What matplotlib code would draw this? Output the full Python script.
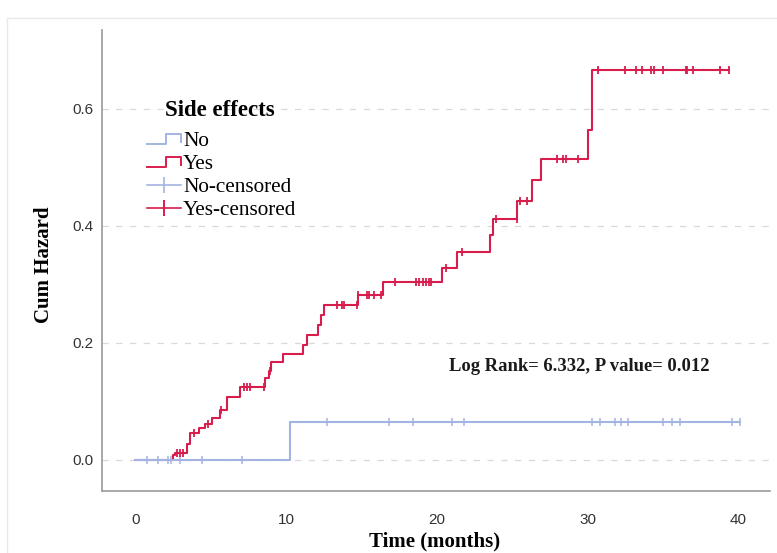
"""
Cumulative hazard by side effects (Kaplan-Meier style step plot).
"""

import numpy as np
import matplotlib
matplotlib.use("Agg")
import matplotlib.pyplot as plt
from matplotlib.lines import Line2D
from matplotlib.legend_handler import HandlerBase
from matplotlib.patches import Rectangle

# ---------------- data ----------------
# "No" group: event times and cum hazard after each event
no_times = [0.0, 10.3]
no_hazard = [0.0, 0.065]
no_end = 40.1
no_censor = [0.8, 1.5, 2.2, 2.4, 3.0, 4.4, 7.1, 12.7, 16.8, 18.4, 21.0, 21.8,
             30.3, 30.8, 31.8, 32.2, 32.7, 35.0, 35.6, 36.1, 39.6, 40.1]

# "Yes" group
yes_times = [0.0, 2.5, 2.65, 3.45, 3.65, 4.2, 4.6, 5.1, 5.6, 6.1, 6.95, 8.6,
             8.85, 9.0, 9.8, 11.15, 11.4, 12.15, 12.3, 12.5, 14.75, 16.45,
             20.35, 21.35, 23.55, 23.7, 25.35, 26.3, 26.9, 30.0, 30.3]
yes_hazard = [0.0, 0.009, 0.012, 0.028, 0.046, 0.055, 0.062, 0.071, 0.085,
              0.107, 0.124, 0.140, 0.152, 0.168, 0.182, 0.196, 0.214, 0.231,
              0.248, 0.265, 0.282, 0.304, 0.329, 0.356, 0.384, 0.412, 0.443,
              0.479, 0.515, 0.564, 0.667]
yes_end = 39.35
yes_censor = [2.8, 3.0, 3.2, 3.9, 4.85, 5.7, 7.2, 7.4, 7.6, 8.55, 8.95,
              13.4, 13.7, 13.85, 14.7, 14.8, 15.4, 15.5, 15.85, 16.3,
              17.25, 18.6, 18.8, 19.1, 19.3, 19.5, 19.6, 20.6, 21.65,
              23.95, 25.3, 25.55, 26.0, 28.0, 28.4, 28.6, 29.4,
              30.7, 32.5, 33.2, 33.6, 34.2, 34.4, 35.0, 36.5, 36.6, 37.0, 38.8, 39.35]

stat_text = "Log Rank= 6.332, P value= 0.012"
legend_title = "Side effects"
legend_labels = ["No", "Yes", "No-censored", "Yes-censored"]
x_ticks = [0, 10, 20, 30, 40]
y_ticks = [0.0, 0.2, 0.4, 0.6]

# ---------------- style ----------------
blue = "#a3b4e2"
red = "#d81d4d"
serif = ["Liberation Serif", "DejaVu Serif"]
narrow = ["Liberation Sans Narrow", "Liberation Sans", "DejaVu Sans"]


def level_at(times, hazard, t):
    idx = np.searchsorted(times, t, side="right") - 1
    return np.array(hazard)[idx]


class HandlerStep(HandlerBase):
    def create_artists(self, legend, orig_handle, xdescent, ydescent,
                       width, height, fontsize, trans):
        x0, x1 = -xdescent, -xdescent + width
        xm = x0 + 0.55 * width
        ylo, yhi = -ydescent + 0.1 * height, -ydescent + 0.8 * height
        line = Line2D([x0, xm, xm, x1, x1], [ylo, ylo, yhi, yhi, ylo + 0.15 * height],
                      color=orig_handle.get_color(), lw=1.4, transform=trans)
        return [line]


fig = plt.figure(figsize=(7.77, 5.53), dpi=100)
fig.patches.append(Rectangle((7 / 777, -0.1), 1.1, (553 - 18) / 553 + 0.1,
                             transform=fig.transFigure, fill=False,
                             edgecolor="#e8e8e8", lw=1.0))
ax = fig.add_axes([102 / 777, (553 - 491) / 553, (770 - 102) / 777, (491 - 30) / 553])

# step curves
nt = list(no_times) + [no_end]
nh = list(no_hazard) + [no_hazard[-1]]
ax.step(nt, nh, where="post", color=blue, lw=1.5, zorder=3)
yt = list(yes_times) + [yes_end]
yh = list(yes_hazard) + [yes_hazard[-1]]
ax.step(yt, yh, where="post", color=red, lw=1.5, zorder=2)

# censor marks
ax.plot(no_censor, level_at(no_times, no_hazard, no_censor), ls="none",
        marker="|", ms=6, mew=1.1, color=blue, zorder=4)
ax.plot(yes_censor, level_at(yes_times, yes_hazard, yes_censor), ls="none",
        marker="|", ms=6, mew=1.3, color=red, zorder=4)

ax.set_xlim(-2.2, 42.1)
ax.set_ylim(-0.053, 0.735)
ax.set_xticks(x_ticks)
ax.set_yticks(y_ticks)
ax.set_yticklabels([f"{v:.1f}" for v in y_ticks])
ax.tick_params(length=0, labelsize=11, colors="#333333")
ax.tick_params(axis="x", pad=16)
ax.tick_params(axis="y", pad=6)
for lab in ax.get_xticklabels() + ax.get_yticklabels():
    lab.set_family(narrow)

ax.grid(axis="y", color="#d9d9d9", ls=(0, (5, 6)), lw=0.9)
ax.set_axisbelow(True)
for s in ["top", "right"]:
    ax.spines[s].set_visible(False)
for s in ["left", "bottom"]:
    ax.spines[s].set_color("#9a9a9a")
    ax.spines[s].set_linewidth(1.2)

fig.text(435 / 777, (553 - 541) / 553, "Time (months)", family=serif,
         fontweight="bold", fontsize=15, ha="center", va="center")
fig.text(44 / 777, (553 - 265) / 553, "Cum Hazard", family=serif,
         fontweight="bold", fontsize=15, ha="center", va="center", rotation=90)

ax.text(20.8, 0.159, stat_text, family=serif, fontweight="bold", fontsize=13.4,
        va="center", ha="left", color="#1a1a1a")

# legend (title drawn as its own text)
fig.text(165 / 777, (553 - 110) / 553, legend_title, family=serif,
         fontweight="bold", fontsize=16.5, ha="left", va="center")
handles = [Line2D([], [], color=blue), Line2D([], [], color=red),
           Line2D([], [], color=blue, marker="|", ms=12, mew=1.2, lw=1.2),
           Line2D([], [], color=red, marker="|", ms=12, mew=1.4, lw=1.2)]
leg = fig.legend(handles, legend_labels, loc="upper left",
                 bbox_to_anchor=(147 / 777, (553 - 131) / 553),
                 frameon=False, prop={"family": serif, "size": 15.3},
                 handler_map={handles[0]: HandlerStep(), handles[1]: HandlerStep()},
                 handlelength=1.6, handletextpad=0.1, labelspacing=0.15,
                 borderpad=0, borderaxespad=0)

fig.savefig("out.png", dpi=100)
